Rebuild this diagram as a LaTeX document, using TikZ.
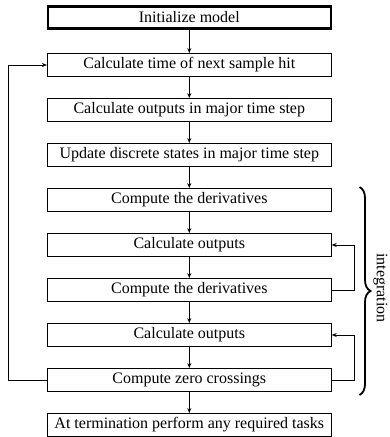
\documentclass[tikz,border=0pt]{standalone}
\usepackage{fontspec}
\setmainfont{Liberation Serif}
\usetikzlibrary{positioning,arrows.meta,decorations.pathreplacing}
\begin{document}
\begin{tikzpicture}[x=1pt,y=1pt,every node/.style={font=\fontsize{16}{19}\selectfont},
  stepbox/.style={draw,line width=0.8pt,minimum width=284pt,minimum height=23pt,inner sep=0pt},
  flow/.style={-{Stealth[length=5pt,width=4pt]},line width=0.7pt},node distance=21.2pt]
  \useasboundingbox (0,0) rectangle (390,-437);
  \node[stepbox,line width=1.2pt] (init) at (189.3,-17.5) {Initialize model};
  \draw[line width=0.6pt] ([shift={(2,2)}]init.south west) rectangle ([shift={(-2,-2)}]init.north east);
  \node[stepbox,below=23.5pt of init] (hit) {Calculate time of next sample hit};
  \node[stepbox,below=of hit] (major) {Calculate outputs in major time step};
  \node[stepbox,below=of major] (update) {Update discrete states in major time step};
  \node[stepbox,below=of update] (deriva) {Compute the derivatives};
  \node[stepbox,below=of deriva] (outa) {Calculate outputs};
  \node[stepbox,below=of outa] (derivb) {Compute the derivatives};
  \node[stepbox,below=of derivb] (outb) {Calculate outputs};
  \node[stepbox,below=of outb] (zero) {Compute zero crossings};
  \node[stepbox,below=of zero] (term) {At termination perform any required tasks};
  \foreach \a/\b in {init/hit,hit/major,major/update,update/deriva,deriva/outa,
    outa/derivb,derivb/outb,outb/zero,zero/term}
    \draw[flow] (\a) -- (\b);
  % feedback loops
  \draw[flow] (zero.west) -- ++(-38.5,0) |- (hit.west);
  \draw[flow] (derivb.east) -- ++(22.5,0) |- (outa.east);
  \draw[flow] (zero.east) -- ++(22.5,0) |- (outb.east);
  % integration brace
  \coordinate (btop) at (359.5,-187);
  \coordinate (bbot) at (359.5,-395);
  \draw[decorate,decoration={brace,amplitude=11pt},line width=1.8pt] (btop) -- (bbot);
  \node[rotate=-90,inner sep=1pt] (integ) at (380.5,-288) {integration};
\end{tikzpicture}
\end{document}
